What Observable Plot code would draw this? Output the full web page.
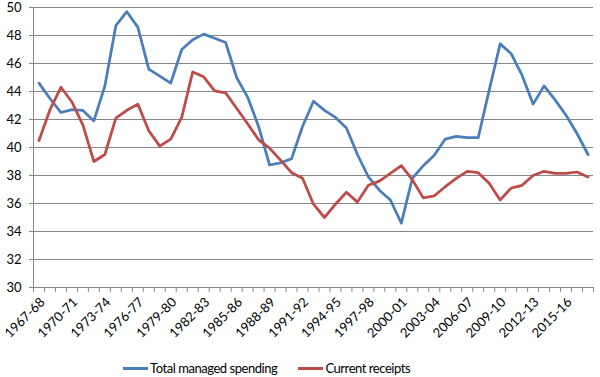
<!DOCTYPE html>
<html><head><meta charset="utf-8">
<script src="https://cdn.jsdelivr.net/npm/d3@7"></script>
<script src="https://cdn.jsdelivr.net/npm/@observablehq/plot@0.6"></script>
<style>
body{margin:0;background:#fff;font-family:Lato,sans-serif;}
#chart svg{display:block;}
#legend{display:flex;align-items:center;height:36px;padding-left:123px;font-size:13px;color:#000;letter-spacing:-0.45px;}
.item{display:flex;align-items:center;margin-right:21px;}
.sw{display:inline-block;width:25px;height:3px;margin-right:2px;}
</style></head><body><div id="chart"></div><div id="legend"></div>
<script>
const years = ["1967-68","1968-69","1969-70","1970-71","1971-72","1972-73","1973-74","1974-75","1975-76","1976-77",
"1977-78","1978-79","1979-80","1980-81","1981-82","1982-83","1983-84","1984-85","1985-86","1986-87",
"1987-88","1988-89","1989-90","1990-91","1991-92","1992-93","1993-94","1994-95","1995-96","1996-97",
"1997-98","1998-99","1999-00","2000-01","2001-02","2002-03","2003-04","2004-05","2005-06","2006-07",
"2007-08","2008-09","2009-10","2010-11","2011-12","2012-13","2013-14","2014-15","2015-16","2016-17","2017-18"];
const spending = [44.6,43.5,42.5,42.7,42.65,41.9,44.4,48.7,49.7,48.6,
45.6,45.1,44.6,47.0,47.7,48.1,47.8,47.5,45.0,43.6,
41.5,38.75,38.9,39.2,41.5,43.3,42.65,42.15,41.4,39.5,
37.9,36.95,36.25,34.6,37.8,38.7,39.45,40.6,40.8,40.7,
40.7,44.1,47.4,46.7,45.15,43.1,44.4,43.4,42.3,41.0,39.5];
const receipts = [40.5,42.7,44.3,43.25,41.6,39.0,39.5,42.1,42.66,43.1,
41.2,40.1,40.6,42.15,45.4,45.05,44.05,43.9,42.8,41.7,
40.55,39.95,39.1,38.2,37.8,35.95,35.0,35.95,36.8,36.1,
37.3,37.6,38.15,38.7,37.7,36.4,36.55,37.2,37.8,38.3,
38.2,37.45,36.25,37.1,37.3,38.0,38.3,38.15,38.15,38.25,37.9];
const seriesNames = ["Total managed spending","Current receipts"];
const seriesColors = ["#4a7ebb","#be4b48"];
const yTicks = [30,32,34,36,38,40,42,44,46,48,50];
const labelStep = 3;

const data = years.flatMap((y, i) => [
  {i, v: spending[i], s: seriesNames[0]},
  {i, v: receipts[i], s: seriesNames[1]}
]);
const labelIdx = years.map((_, i) => i).filter(i => i % labelStep === 0);
const boundaries = d3.range(years.length + 1).map(i => i - 0.5);
const gray = "#868686";

const chart = Plot.plot({
  width: 600, height: 350,
  marginTop: 7, marginBottom: 63, marginLeft: 33, marginRight: 7,
  x: {domain: [-0.5, years.length - 0.5], axis: null},
  y: {domain: [30, 50], axis: null},
  color: {domain: seriesNames, range: seriesColors},
  style: {fontFamily: "Lato, sans-serif", fontSize: "13px", color: "#000", background: "#fff"},
  marks: [
    Plot.gridY(yTicks, {stroke: gray, strokeOpacity: 1}),
    Plot.axisY(yTicks, {tickSize: 4, tickPadding: 8, stroke: gray, fill: "#000", label: null, fontSize: 13}),
    Plot.ruleX([-0.5], {stroke: gray}),
    Plot.axisX(boundaries, {tickSize: 5, tickFormat: () => "", stroke: gray, label: null}),
    Plot.axisX(labelIdx, {tickSize: 0, tickPadding: 9, tickFormat: i => years[i], rotate: -45, textAnchor: "end", fill: "#000", label: null, fontSize: 13}),
    Plot.line(data, {x: "i", y: "v", stroke: "s", strokeWidth: 2.75, curve: "linear"})
  ]
});
document.getElementById("chart").appendChild(chart);

const legend = document.getElementById("legend");
seriesNames.forEach((name, k) => {
  const item = document.createElement("span");
  item.className = "item";
  const sw = document.createElement("span");
  sw.className = "sw";
  sw.style.background = seriesColors[k];
  item.appendChild(sw);
  item.appendChild(document.createTextNode(name));
  legend.appendChild(item);
});
</script>
</body></html>
